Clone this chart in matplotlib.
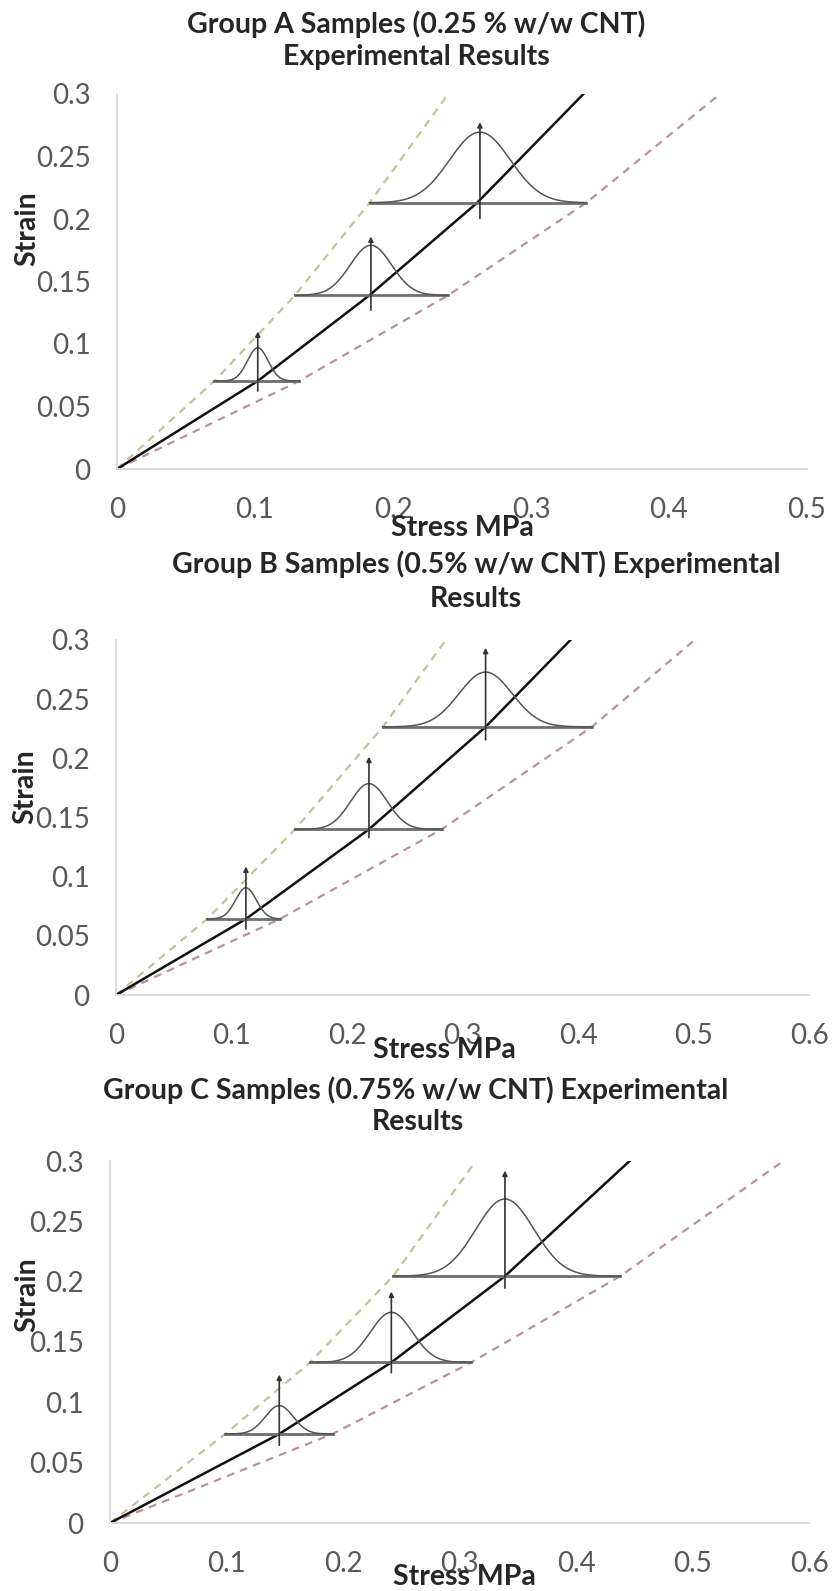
import numpy as np
import matplotlib.pyplot as plt

plt.rcParams['font.family'] = ['Lato', 'DejaVu Sans']

# group A (0.25 % CNT)
a_black_x = [0, 0.102, 0.183, 0.261, 0.338]
a_black_y = [0, 0.0704, 0.139, 0.213, 0.30]
a_green_x = [0, 0.0706, 0.129, 0.183, 0.240]
a_green_y = [0, 0.0704, 0.139, 0.213, 0.30]
a_red_x = [0, 0.132, 0.240, 0.340, 0.437]
a_red_y = [0, 0.0704, 0.139, 0.213, 0.30]
a_bell_c = [0.102, 0.184, 0.263]
a_bell_base = [0.0704, 0.139, 0.213]
a_bell_peak = [0.097, 0.179, 0.2695]
a_bell_sig = [0.0075, 0.015, 0.022]
a_arrow_lo = [0.0624, 0.127, 0.2005]
a_arrow_hi = [0.110, 0.186, 0.2775]

# group B (0.5 % CNT)
b_black_x = [0, 0.1125, 0.219, 0.320, 0.3935]
b_black_y = [0, 0.0643, 0.140, 0.2266, 0.30]
b_green_x = [0, 0.079, 0.155, 0.231, 0.2856]
b_green_y = [0, 0.0643, 0.140, 0.2266, 0.30]
b_red_x = [0, 0.142, 0.282, 0.412, 0.501]
b_red_y = [0, 0.0643, 0.140, 0.2266, 0.30]
b_bell_c = [0.1125, 0.219, 0.320]
b_bell_base = [0.0643, 0.140, 0.2266]
b_bell_peak = [0.0906, 0.1786, 0.2729]
b_bell_sig = [0.009, 0.016, 0.023]
b_arrow_lo = [0.0557, 0.133, 0.2157]
b_arrow_hi = [0.1086, 0.2014, 0.2934]

# group C (0.75 % CNT)
c_black_x = [0, 0.1453, 0.2415, 0.339, 0.446]
c_black_y = [0, 0.0738, 0.1331, 0.2046, 0.30]
c_green_x = [0, 0.0989, 0.1718, 0.243, 0.314]
c_green_y = [0, 0.0738, 0.1331, 0.2046, 0.30]
c_red_x = [0, 0.191, 0.310, 0.438, 0.578]
c_red_y = [0, 0.0738, 0.1331, 0.2046, 0.30]
c_bell_c = [0.1453, 0.2415, 0.339]
c_bell_base = [0.0738, 0.1331, 0.2046]
c_bell_peak = [0.0973, 0.1746, 0.2685]
c_bell_sig = [0.012, 0.018, 0.025]
c_arrow_lo = [0.0644, 0.1245, 0.1946]
c_arrow_hi = [0.123, 0.1918, 0.292]

yticks = [0, 0.05, 0.1, 0.15, 0.2, 0.25, 0.3]
ytick_lbl = ['0', '0.05', '0.1', '0.15', '0.2', '0.25', '0.3']

W, H = 832, 1591
fig = plt.figure(figsize=(W / 100, H / 100), dpi=100)

GREEN = '#c6c09c'
RED = '#b8939a'
TXT = '#595959'
FS = 20.5


def px_ax(x0, x1, y0, y1):
    return fig.add_axes([x0 / W, 1 - y1 / H, (x1 - x0) / W, (y1 - y0) / H])


def panel(ax, xmax, bx, by, gx, gy, rx, ry, bc, bb, bp, bs, alo, ahi):
    ax.plot(gx, gy, color=GREEN, lw=1.6, ls=(0, (3.5, 2.8)))
    ax.plot(rx, ry, color=RED, lw=1.6, ls=(0, (3.5, 2.8)))
    ax.plot(bx, by, color='#111111', lw=1.8)
    for i in range(len(bc)):
        # base line runs from the green to the red bound at that level
        x0, x1 = gx[i + 1], rx[i + 1]
        ax.plot([x0, x1], [bb[i], bb[i]], color='#6e6e6e', lw=2.0)
        xs = np.linspace(x0, x1, 200)
        ys = bb[i] + (bp[i] - bb[i]) * np.exp(-(xs - bc[i]) ** 2 / (2 * bs[i] ** 2))
        ax.plot(xs, ys, color='#555555', lw=1.1)
        ax.annotate('', xy=(bc[i], ahi[i]), xytext=(bc[i], alo[i]),
                    arrowprops=dict(arrowstyle='-|>', color='#333333', lw=1.2,
                                    mutation_scale=7, shrinkA=0, shrinkB=0))
    ax.set_xlim(0, xmax)
    ax.set_ylim(0, 0.3)
    ax.set_xticks(np.arange(0, xmax + 0.01, 0.1))
    ax.set_xticklabels(['0'] + ['%.1f' % v for v in np.arange(0.1, xmax + 0.01, 0.1)])
    ax.set_yticks(yticks)
    ax.set_yticklabels(ytick_lbl)
    ax.tick_params(length=0, labelsize=FS - 0.5, colors=TXT)
    ax.tick_params(axis='x', pad=20)
    ax.tick_params(axis='y', pad=19)
    for s in ['top', 'right']:
        ax.spines[s].set_visible(False)
    for s in ['left', 'bottom']:
        ax.spines[s].set_color('#d9d9d9')
        ax.spines[s].set_linewidth(1.3)
    ax.patch.set_alpha(0)


ax_a = px_ax(117, 807, 94, 469)
panel(ax_a, 0.5, a_black_x, a_black_y, a_green_x, a_green_y, a_red_x, a_red_y,
      a_bell_c, a_bell_base, a_bell_peak, a_bell_sig, a_arrow_lo, a_arrow_hi)
ax_b = px_ax(116, 809, 640, 995)
panel(ax_b, 0.6, b_black_x, b_black_y, b_green_x, b_green_y, b_red_x, b_red_y,
      b_bell_c, b_bell_base, b_bell_peak, b_bell_sig, b_arrow_lo, b_arrow_hi)
ax_c = px_ax(110, 809, 1161, 1523)
panel(ax_c, 0.6, c_black_x, c_black_y, c_green_x, c_green_y, c_red_x, c_red_y,
      c_bell_c, c_bell_base, c_bell_peak, c_bell_sig, c_arrow_lo, c_arrow_hi)


def ftext(x, y, s, **kw):
    fig.text(x / W, 1 - y / H, s, ha='center', va='center', fontweight='bold',
             color='#262626', fontsize=FS, **kw)


ftext(416, 24, 'Group A Samples (0.25 % w/w CNT)')
ftext(416, 57, 'Experimental Results')
ftext(476, 564, 'Group B Samples (0.5% w/w CNT) Experimental')
ftext(476, 599, 'Results')
ftext(416, 1090, 'Group C Samples (0.75% w/w CNT) Experimental')
ftext(418, 1122, 'Results')

ftext(462, 528, 'Stress MPa')
ftext(444, 1050, 'Stress MPa')
ftext(464, 1577, 'Stress MPa')

ftext(27, 229, 'Strain', rotation=90)
ftext(25, 787, 'Strain', rotation=90)
ftext(27, 1295, 'Strain', rotation=90)

fig.savefig('out.png', dpi=100, facecolor='white')
